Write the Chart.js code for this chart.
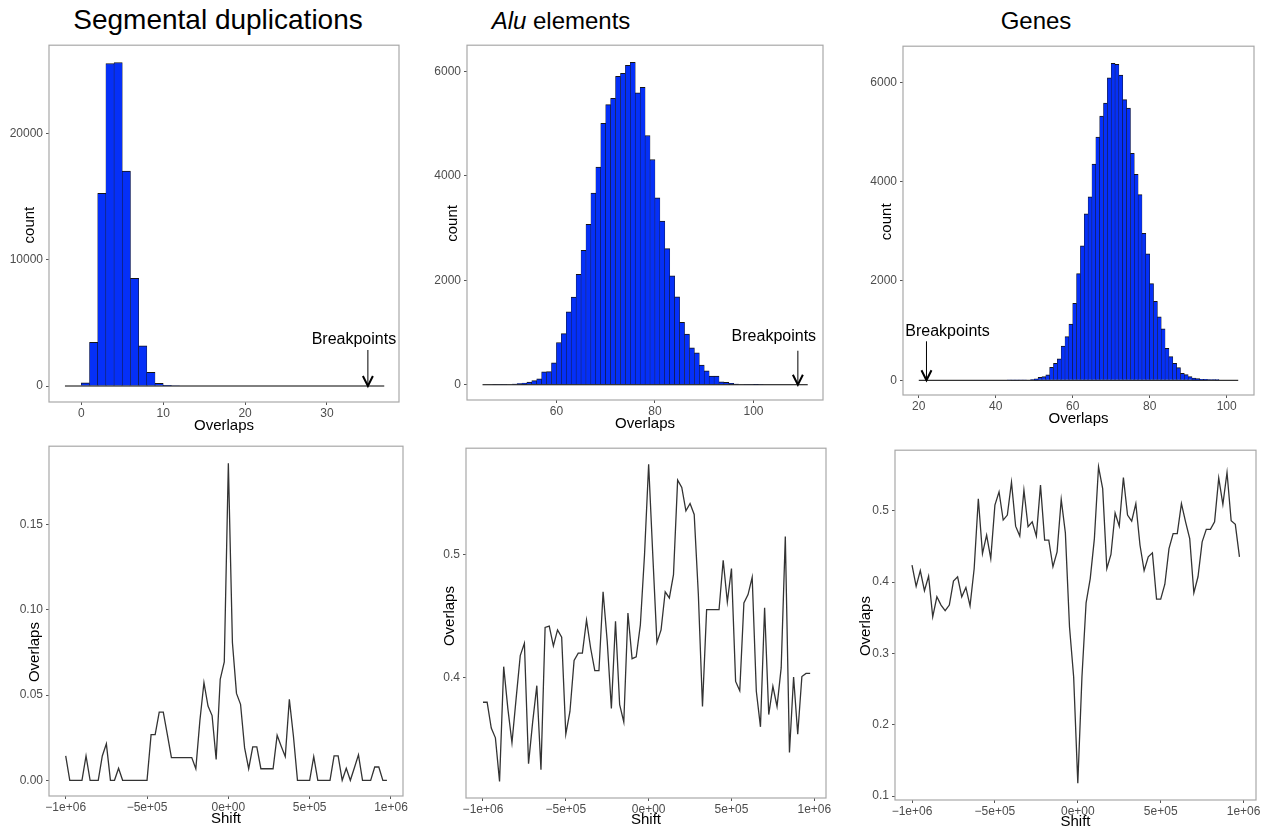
<!DOCTYPE html>
<html>
<head>
<meta charset="utf-8">
<script src="https://cdn.jsdelivr.net/npm/chart.js@4.4.0/dist/chart.umd.min.js"></script>
<style>
    html, body { margin: 0; padding: 0; background: #fff; overflow: hidden; }
    body { width: 1267px; height: 828px; position: relative; font-family: "Liberation Sans", Arial, sans-serif; }
    .title { position: absolute; color: #000; white-space: nowrap; transform: translateX(-50%); }
    canvas { position: absolute; }
</style>
</head>
<body>
<div class="title" style="left:218px; top:4px; font-size:28px; line-height:32px;">Segmental duplications</div>
<div class="title" style="left:561px; top:6px; font-size:24px; line-height:30px;"><i>Alu</i> elements</div>
<div class="title" style="left:1036px; top:6px; font-size:24px; line-height:30px;">Genes</div>

<canvas id="sdHist"></canvas>
<canvas id="aluHist"></canvas>
<canvas id="geneHist"></canvas>
<canvas id="sdShift"></canvas>
<canvas id="aluShift"></canvas>
<canvas id="geneShift"></canvas>

<script>
// ---- histogram data (bin left edges, bin width 1) ----
const sdBins = [0, 1, 2, 3, 4, 5, 6, 7, 8, 9, 10, 11];
const sdCounts = [250, 3460, 15260, 25550, 25630, 17020, 8530, 3190, 1080, 210, 60, 20];
const sdBaseline = [-2, 37];
const sdBreakpoint = 35;

const aluBins = [46, 47, 48, 49, 50, 51, 52, 53, 54, 55, 56, 57, 58, 59, 60, 61, 62, 63, 64, 65,
    66, 67, 68, 69, 70, 71, 72, 73, 74, 75, 76, 77, 78, 79, 80, 81, 82, 83, 84, 85,
    86, 87, 88, 89, 90, 91, 92, 93, 94, 95, 96, 97, 98, 99, 100, 101];
const aluCounts = [8, 10, 6, 4, 8, 15, 22, 32, 50, 80, 115, 245, 250, 420, 809, 980, 1395, 1680, 2115, 2573,
    3070, 3670, 4165, 5006, 5363, 5484, 5904, 5962, 6115, 6172, 5586, 5694, 4771, 4312, 3580, 3134, 2605, 2083, 1682, 1197,
    968, 707, 611, 376, 268, 166, 166, 57, 45, 25, 15, 8, 5, 4, 2, 6];
const aluBaseline = [45, 111];
const aluBreakpoint = 109;

const geneBins = [43, 44, 45, 46, 47, 48, 49, 50, 51, 52, 53, 54, 55, 56, 57, 58, 59, 60, 61, 62,
    63, 64, 65, 66, 67, 68, 69, 70, 71, 72, 73, 74, 75, 76, 77, 78, 79, 80, 81, 82,
    83, 84, 85, 86, 87, 88, 89, 90, 91, 92, 93, 94, 95, 96, 97];
const geneCounts = [8, 3, 3, 8, 5, 10, 15, 30, 60, 75, 110, 260, 340, 430, 690, 880, 1130, 1552, 2147, 2709,
    3351, 3692, 4355, 4896, 5318, 5579, 6087, 6381, 6360, 6147, 5652, 5478, 4569, 4147, 3739, 2957, 2548, 1946, 1592, 1278,
    1037, 642, 475, 341, 254, 140, 114, 74, 47, 33, 20, 18, 15, 15, 12];
const geneBaseline = [20, 103];
const geneBreakpoint = 22;

// ---- shift profiles ----
const shift = [-1000000, -975000, -950000, -925000, -900000, -875000, -850000, -825000, -800000, -775000,
    -750000, -725000, -700000, -675000, -650000, -625000, -600000, -575000, -550000, -525000,
    -500000, -475000, -450000, -425000, -400000, -375000, -350000, -325000, -300000, -275000,
    -250000, -225000, -200000, -175000, -150000, -125000, -100000, -75000, -50000, -25000,
    0, 25000, 50000, 75000, 100000, 125000, 150000, 175000, 200000, 225000,
    250000, 275000, 300000, 325000, 350000, 375000, 400000, 425000, 450000, 475000,
    500000, 525000, 550000, 575000, 600000, 625000, 650000, 675000, 700000, 725000,
    750000, 775000, 800000, 825000, 850000, 875000, 900000, 925000, 950000, 975000];

const sdOverlap = [0.0143, 0, 0, 0, 0, 0.0143, 0, 0, 0, 0.0143,
    0.0214, 0, 0, 0.0071, 0, 0, 0, 0, 0, 0,
    0, 0.0268, 0.0268, 0.0400, 0.0400, 0.0268, 0.0133, 0.0133, 0.0133, 0.0133,
    0.0133, 0.0133, 0.0068, 0.035, 0.0573, 0.0436, 0.038, 0.0123, 0.0593, 0.0694,
    0.186, 0.0808, 0.051, 0.0446, 0.019, 0.0068, 0.0196, 0.0196, 0.0068, 0.0068,
    0.0068, 0.0068, 0.0264, 0.020, 0.0139, 0.0475, 0.026, 0, 0, 0,
    0, 0.0139, 0, 0, 0, 0, 0.0143, 0.0143, 0, 0.007,
    0, 0.0074, 0.0149, 0, 0, 0, 0.0078, 0.0078, 0, 0];

const aluOverlap = [0.380, 0.380, 0.359, 0.351, 0.3155, 0.409, 0.375, 0.347, 0.383, 0.418,
    0.428, 0.330, 0.364, 0.3935, 0.325, 0.441, 0.442, 0.426, 0.439, 0.433,
    0.354, 0.3725, 0.414, 0.420, 0.420, 0.447, 0.424, 0.4057, 0.4057, 0.470,
    0.4296, 0.375, 0.446, 0.378, 0.364, 0.4527, 0.4155, 0.417, 0.443, 0.500,
    0.574, 0.500, 0.4288, 0.439, 0.470, 0.465, 0.484, 0.561, 0.555, 0.536,
    0.542, 0.533, 0.468, 0.3766, 0.4554, 0.4554, 0.4554, 0.4554, 0.4957, 0.4617,
    0.4889, 0.397, 0.3894, 0.4609, 0.4677, 0.4818, 0.389, 0.360, 0.457, 0.370,
    0.393, 0.3766, 0.408, 0.515, 0.339, 0.4005, 0.354, 0.401, 0.4035, 0.4035];

const geneOverlap = [0.4238, 0.394, 0.416, 0.388, 0.4084, 0.3514, 0.3794, 0.3678, 0.360, 0.3678,
    0.4014, 0.4075, 0.3794, 0.3925, 0.3668, 0.419, 0.517, 0.440, 0.466, 0.433,
    0.508, 0.5266, 0.487, 0.494, 0.540, 0.4785, 0.4645, 0.529, 0.4776, 0.4846,
    0.4645, 0.536, 0.4589, 0.4589, 0.4215, 0.4425, 0.516, 0.469, 0.337, 0.267,
    0.1178, 0.267, 0.371, 0.405, 0.461, 0.5617, 0.531, 0.419, 0.4388, 0.497,
    0.4785, 0.5467, 0.494, 0.4855, 0.510, 0.452, 0.416, 0.4355, 0.441, 0.376,
    0.376, 0.397, 0.447, 0.468, 0.468, 0.510, 0.4846, 0.461, 0.385, 0.4075,
    0.4565, 0.474, 0.474, 0.4846, 0.546, 0.509, 0.5537, 0.486, 0.481, 0.4355];

// ---- tick values / labels ----
const sdXTicks = [0, 10, 20, 30];
const sdYTicks = [0, 10000, 20000];
const aluXTicks = [60, 80, 100];
const countTicks = [0, 2000, 4000, 6000];
const geneXTicks = [20, 40, 60, 80, 100];
const shiftTicks = [-1000000, -500000, 0, 500000, 1000000];
const shiftLabels = ['\u22121e+06', '\u22125e+05', '0e+00', '5e+05', '1e+06'];
const sdShiftYTicks = [0, 0.05, 0.10, 0.15];
const sdShiftYLabels = ['0.00', '0.05', '0.10', '0.15'];
const aluShiftYTicks = [0.4, 0.5];
const aluShiftYLabels = ['0.4', '0.5'];
const geneShiftYTicks = [0.1, 0.2, 0.3, 0.4, 0.5];
const geneShiftYLabels = ['0.1', '0.2', '0.3', '0.4', '0.5'];

const BIN_W = 1;
const BAR_BLUE = '#0530f8';
const LINE_GREY = '#333333';
const AXIS_W = 60, AXIS_H = 36, PAD_T = 10, PAD_R = 22;
const FONT = '"Liberation Sans", Arial, sans-serif';

Chart.defaults.font.family = FONT;

// grey box round the plotting area
const framePlugin = {
    id: 'frame',
    afterDraw(chart) {
        const { ctx, chartArea: a } = chart;
        ctx.save();
        ctx.strokeStyle = '#a8a8a8';
        ctx.lineWidth = 1.2;
        ctx.strokeRect(a.left, a.top, a.right - a.left, a.bottom - a.top);
        ctx.restore();
    }
};

// axis titles, placed relative to the plotting area
const axisTitlePlugin = {
    id: 'axisTitles',
    afterDraw(chart, args, opts) {
        const { ctx, chartArea: a } = chart;
        ctx.save();
        ctx.fillStyle = '#000';
        ctx.font = '15px ' + FONT;
        ctx.textAlign = 'center';
        ctx.textBaseline = 'middle';
        ctx.fillText(opts.x, (a.left + a.right) / 2, a.bottom + opts.xDy);
        ctx.translate(a.left + opts.yDx, (a.top + a.bottom) / 2 + opts.yDy);
        ctx.rotate(-Math.PI / 2);
        ctx.fillText(opts.y, 0, 0);
        ctx.restore();
    }
};

// "Breakpoints" arrow pointing at the observed value
const breakpointPlugin = {
    id: 'breakpoint',
    afterDatasetsDraw(chart, args, opts) {
        if (opts.x === undefined) return;
        const { ctx, scales: { x, y } } = chart;
        const px = x.getPixelForValue(opts.x);
        const py = y.getPixelForValue(0);
        const top = py - opts.length;
        ctx.save();
        ctx.strokeStyle = '#000';
        ctx.lineWidth = 1;
        ctx.beginPath();
        ctx.moveTo(px, top);
        ctx.lineTo(px, py);
        ctx.stroke();
        ctx.lineWidth = 2;
        ctx.beginPath();
        ctx.moveTo(px - 5, py - 10);
        ctx.lineTo(px, py);
        ctx.lineTo(px + 5, py - 10);
        ctx.stroke();
        ctx.fillStyle = '#000';
        ctx.font = '16px ' + FONT;
        ctx.textAlign = 'center';
        ctx.textBaseline = 'middle';
        ctx.fillText('Breakpoints', px + opts.dx, top - opts.gap);
        ctx.restore();
    }
};

function placeCanvas(id, box) {
    const c = document.getElementById(id);
    const w = box.r - box.l + AXIS_W + PAD_R;
    const h = box.b - box.t + PAD_T + AXIS_H;
    c.width = w;
    c.height = h;
    c.style.left = (box.l - AXIS_W) + 'px';
    c.style.top = (box.t - PAD_T) + 'px';
    c.style.width = w + 'px';
    c.style.height = h + 'px';
    return c;
}

function makeAxis(horizontal, min, max, ticks, labels) {
    return {
        type: 'linear',
        min: min,
        max: max,
        offset: false,
        afterBuildTicks: s => { s.ticks = ticks.map(v => ({ value: v })); },
        afterFit: s => {
            if (horizontal) s.height = AXIS_H;
            else s.width = AXIS_W;
        },
        ticks: {
            callback: v => labels[ticks.indexOf(v)],
            color: '#4d4d4d',
            font: { size: 12 },
            padding: horizontal ? 1 : 3,
            maxRotation: 0,
            autoSkip: false
        },
        grid: { display: true, offset: false, drawOnChartArea: false, drawTicks: true, tickLength: 3, color: '#555' },
        border: { display: false },
        title: { display: false }
    };
}

function baseOptions(xAxis, yAxis, titles, breakpoint) {
    return {
        responsive: false,
        animation: false,
        devicePixelRatio: 1,
        layout: { autoPadding: false, padding: { left: 0, top: PAD_T, right: PAD_R, bottom: 0 } },
        plugins: {
            legend: { display: false },
            tooltip: { enabled: false },
            axisTitles: titles,
            breakpoint: breakpoint || {}
        },
        scales: { x: xAxis, y: yAxis }
    };
}

function histogram(id, box, bins, counts, baseline, xr, yr, xTicks, yTicks, breakpoint) {
    const canvas = placeCanvas(id, box);
    new Chart(canvas, {
        type: 'bar',
        data: {
            datasets: [{
                type: 'line',
                data: [{ x: baseline[0], y: 0 }, { x: baseline[1], y: 0 }],
                borderColor: '#000',
                borderWidth: 1,
                pointRadius: 0
            }, {
                type: 'bar',
                data: bins.map((b, i) => ({ x: b + BIN_W / 2, y: counts[i] })),
                backgroundColor: BAR_BLUE,
                borderColor: '#151515',
                borderWidth: { top: 1, left: 0.5, right: 0.5, bottom: 0 },
                barPercentage: 1,
                categoryPercentage: 1
            }]
        },
        options: baseOptions(
            makeAxis(true, xr[0], xr[1], xTicks, xTicks.map(String)),
            makeAxis(false, yr[0], yr[1], yTicks, yTicks.map(String)),
            { x: 'Overlaps', y: 'count', xDy: box.xt, yDx: box.yt, yDy: box.yy },
            breakpoint
        ),
        plugins: [framePlugin, axisTitlePlugin, breakpointPlugin]
    });
}

function shiftPlot(id, box, values, xr, yr, yTicks, yLabels) {
    const canvas = placeCanvas(id, box);
    new Chart(canvas, {
        type: 'line',
        data: {
            datasets: [{
                data: shift.map((s, i) => ({ x: s, y: values[i] })),
                borderColor: LINE_GREY,
                borderWidth: 1.3,
                pointRadius: 0,
                tension: 0,
                fill: false
            }]
        },
        options: baseOptions(
            makeAxis(true, xr[0], xr[1], shiftTicks, shiftLabels),
            makeAxis(false, yr[0], yr[1], yTicks, yLabels),
            { x: 'Shift', y: 'Overlaps', xDy: box.xt, yDx: box.yt, yDy: box.yy }
        ),
        plugins: [framePlugin, axisTitlePlugin]
    });
}

histogram('sdHist', { l: 49, t: 45, r: 399, b: 402, xt: 23.7, yt: -19, yy: 1.5 },
    sdBins, sdCounts, sdBaseline, [-3.95, 38.8], [-1267, 27000], sdXTicks, sdYTicks,
    { x: sdBreakpoint, length: 36, gap: 10, dx: -14 });

histogram('aluHist', { l: 467, t: 45, r: 823, b: 400, xt: 24.3, yt: -14.6, yy: 0.8 },
    aluBins, aluCounts, aluBaseline, [41.85, 114.1], [-292, 6500], aluXTicks, countTicks,
    { x: aluBreakpoint, length: 34, gap: 14, dx: -24 });

histogram('geneHist', { l: 903, t: 46, r: 1254, b: 395, xt: 24, yt: -16.6, yy: 1.2 },
    geneBins, geneCounts, geneBaseline, [15.9, 107.1], [-296, 6726], geneXTicks, countTicks,
    { x: geneBreakpoint, length: 39, gap: 10, dx: 21 });

shiftPlot('sdShift', { l: 49, t: 446, r: 403, b: 796, xt: 23, yt: -14, yy: 31 },
    sdOverlap, [-1102700, 1073800], [-0.0092, 0.196], sdShiftYTicks, sdShiftYLabels);

shiftPlot('aluShift', { l: 466, t: 448, r: 826, b: 798, xt: 22.3, yt: -16.4, yy: -7 },
    aluOverlap, [-1102500, 1070600], [0.302, 0.587], aluShiftYTicks, aluShiftYLabels);

shiftPlot('geneShift', { l: 895, t: 450, r: 1256, b: 800, xt: 21.7, yt: -29, yy: 1 },
    geneOverlap, [-1102600, 1074800], [0.0944, 0.585], geneShiftYTicks, geneShiftYLabels);
</script>
</body>
</html>
